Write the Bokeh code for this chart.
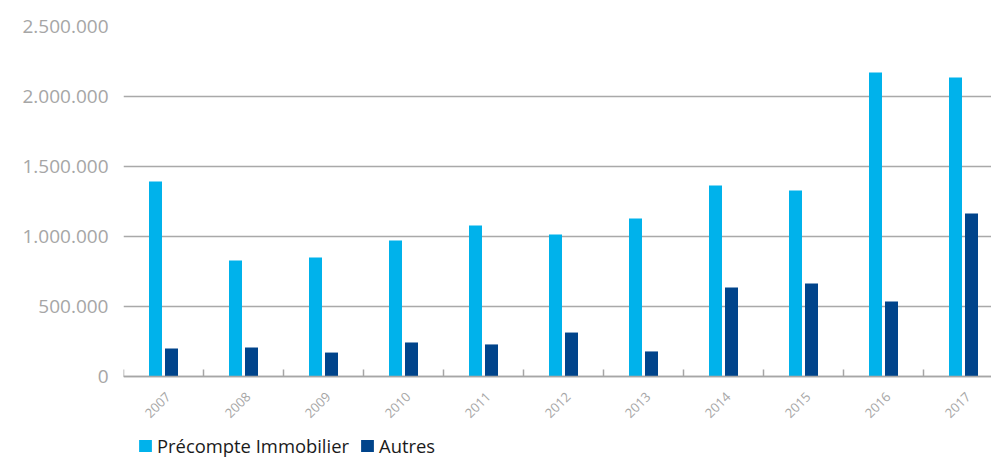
from bokeh.plotting import figure
from bokeh.models import (ColumnDataSource, Range1d, FixedTicker, Legend, LegendItem)
from bokeh.transform import dodge
from bokeh.embed import file_html
from bokeh.resources import INLINE
import numpy as np

years = ["2007", "2008", "2009", "2010", "2011", "2012", "2013", "2014", "2015", "2016", "2017"]
precompte = [1393000, 829000, 850000, 971000, 1079000, 1014000, 1129000, 1364000, 1329000, 2171000, 2136000]
autres = [200000, 207000, 171000, 243000, 229000, 314000, 179000, 636000, 664000, 536000, 1164000]
y_ticks = [0, 500000, 1000000, 1500000, 2000000, 2500000]
y_tick_labels = ["0", "500.000", "1.000.000", "1.500.000", "2.000.000", "2.500.000"]

LIGHT = "#00B2EB"
DARK = "#00448B"
GRAY = "#a6a6a6"
FONT = "Open Sans"

x = np.arange(len(years)) + 0.5
src = ColumnDataSource(dict(x=x, precompte=precompte, autres=autres, year=years))

# frame spans the bar area plus the space below it (axis labels and legend)
ymax = 2500000
plot_px, below_px = 350, 82
ymin = -ymax * below_px / plot_px

p = figure(frame_width=868, frame_height=plot_px + below_px, output_backend="svg",
           toolbar_location=None,
           x_range=Range1d(0, 10.85), y_range=Range1d(ymin, ymax),
           min_border_left=123, min_border_right=0, min_border_top=26, min_border_bottom=0)
p.outline_line_color = None

r1 = p.vbar(x=dodge("x", -0.1), top="precompte", width=0.1625, source=src,
            fill_color=LIGHT, line_color=None)
r2 = p.vbar(x=dodge("x", 0.1), top="autres", width=0.1625, source=src,
            fill_color=DARK, line_color=None)

# y axis
p.yaxis.ticker = FixedTicker(ticks=y_ticks)
p.yaxis.major_label_overrides = {t: l for t, l in zip(y_ticks, y_tick_labels)}
p.yaxis.axis_line_color = None
p.yaxis.major_tick_line_color = None
p.yaxis.minor_tick_line_color = None
p.yaxis.major_label_text_font = FONT
p.yaxis.major_label_text_font_size = "19px"
p.yaxis.major_label_text_color = GRAY
p.yaxis.major_label_standoff = 9

p.ygrid.ticker = FixedTicker(ticks=y_ticks)
p.ygrid.grid_line_color = "#a9a9a9"
p.ygrid.grid_line_width = 1.5
p.xgrid.grid_line_color = None

# x axis drawn at y = 0 (labels nudged slightly right, as in the reference)
label_x = x + 0.06
p.xaxis.fixed_location = 0
p.xaxis.ticker = FixedTicker(ticks=list(label_x), minor_ticks=list(np.arange(len(years) + 1)))
p.xaxis.major_label_overrides = {float(xx): y for xx, y in zip(label_x, years)}
p.xaxis.major_label_orientation = np.pi / 4
p.xaxis.major_label_text_font = FONT
p.xaxis.major_label_text_font_size = "13px"
p.xaxis.major_label_text_color = GRAY
p.xaxis.major_label_standoff = 12
p.xaxis.major_tick_line_color = None
p.xaxis.minor_tick_in = 7
p.xaxis.minor_tick_out = 0
p.xaxis.minor_tick_line_color = GRAY
p.xaxis.minor_tick_line_width = 1.5
p.xaxis.axis_line_color = GRAY
p.xaxis.axis_line_width = 1.5

legend = Legend(items=[LegendItem(label="Précompte Immobilier", renderers=[r1]),
                       LegendItem(label="Autres", renderers=[r2])],
                orientation="horizontal", location=(14, 0),
                label_text_font=FONT, label_text_font_size="18.4px",
                label_text_color="#1a1a1a", glyph_width=16, glyph_height=15,
                label_standoff=4, spacing=10, padding=0, margin=0,
                border_line_color=None, background_fill_alpha=0)
p.add_layout(legend, "center")

open("out.html", "w").write(file_html(p, INLINE))
